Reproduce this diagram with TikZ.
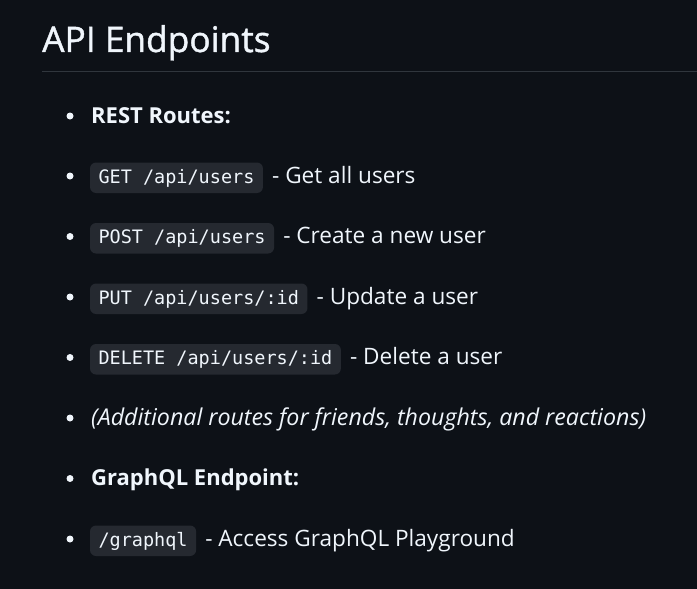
\documentclass[tikz,border=0pt]{standalone}
\usepackage{fontspec}
\setmainfont{Open Sans}
\setmonofont{DejaVu Sans Mono}
\newfontfamily\headfont{Open Sans}[FakeBold=1.2]
\usetikzlibrary{positioning}

\definecolor{pagebg}{RGB}{13,17,23}
\definecolor{fgtext}{RGB}{240,246,252}
\definecolor{codebg}{RGB}{37,41,48}
\definecolor{rulecol}{RGB}{48,54,61}

\tikzset{
	itemtext/.style={anchor=base west, inner sep=0pt, text=fgtext, font=\fontsize{22.6}{26}\selectfont},
	codebox/.style={anchor=base west, fill=codebg, rounded corners=6pt, inner xsep=8.5pt, inner ysep=6pt,
		text height=14.5pt, text depth=4pt, outer sep=0pt, text=fgtext, font=\fontsize{18.5}{22}\ttfamily},
	bulletdot/.style={circle, fill=fgtext, inner sep=0pt, minimum size=7pt},
}

\begin{document}
\begin{tikzpicture}[x=1pt, y=-1pt]
	\fill[pagebg] (0,0) rectangle (697,589);
	\useasboundingbox (0,0) rectangle (697,589);
	% heading
	\node[anchor=base west, inner sep=0pt, text=fgtext, font=\headfont\fontsize{35.3}{40}\selectfont] (title) at (42,52) {API Endpoints};
	\draw[rulecol, line width=1pt] (42,71) -- (697,71);
	% bullets
	\foreach \r/\y in {rest/123, get/183, post/243.5, put/304, delete/364.5, more/425, gql/485.5, graphql/546}{
		\node[bulletdot] (dot-\r) at (70,\y-7) {};
	}
	% REST routes
	\node[itemtext, font=\fontsize{22}{26}\selectfont\bfseries] (rest) at (91,123) {REST Routes:};
	\node[codebox] (get) at (90,183) {GET /api/users};
	\node[itemtext] (get-txt) at ([xshift=9pt]get.base east) {- Get all users};
	\node[codebox] (post) at (90,243.5) {POST /api/users};
	\node[itemtext] (post-txt) at ([xshift=9pt]post.base east) {- Create a new user};
	\node[codebox] (put) at (90,304) {PUT /api/users/:id};
	\node[itemtext] (put-txt) at ([xshift=9pt]put.base east) {- Update a user};
	\node[codebox] (delete) at (90,364.5) {DELETE /api/users/:id};
	\node[itemtext] (delete-txt) at ([xshift=9pt]delete.base east) {- Delete a user};
	\node[itemtext, font=\fontsize{23.2}{26}\selectfont\itshape] (more) at (91,425) {(Additional routes for friends, thoughts, and reactions)};
	% GraphQL
	\node[itemtext, font=\fontsize{22}{26}\selectfont\bfseries] (gql) at (91,485.5) {GraphQL Endpoint:};
	\node[codebox] (graphql) at (90,546) {/graphql};
	\node[itemtext] (graphql-txt) at ([xshift=9pt]graphql.base east) {- Access GraphQL Playground};
\end{tikzpicture}
\end{document}
